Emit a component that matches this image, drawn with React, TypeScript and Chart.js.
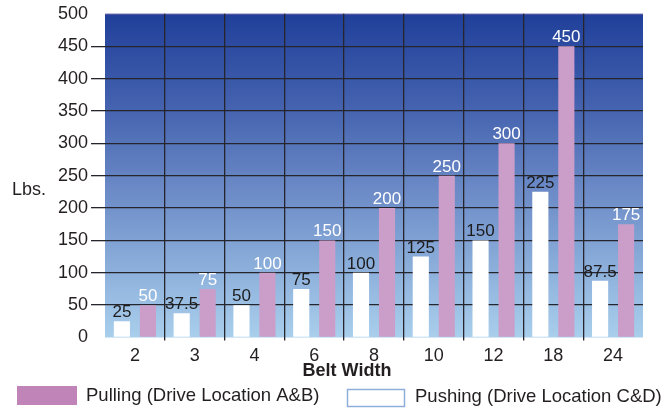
import React, { useEffect, useRef } from "react";
import { Chart, registerables } from "chart.js";

Chart.register(...registerables);

const categories = ["2", "3", "4", "6", "8", "10", "12", "18", "24"];
const pushingValues = [25, 37.5, 50, 75, 100, 125, 150, 225, 87.5];
const pullingValues = [50, 75, 100, 150, 200, 250, 300, 450, 175];
const pushingLabel = "Pushing (Drive Location C&D)";
const pullingLabel = "Pulling (Drive Location A&B)";
const yTitle = "Lbs.";
const xTitle = "Belt Width";

const FONT = "'Liberation Sans', Arial, Helvetica, sans-serif";
const TEXT = "#231f20";
const PINK = "#cb9ec9";
const PINK_LEGEND = "#c184b9";
const GRID = "#25252e";

export default function App() {
  const ref = useRef<HTMLCanvasElement | null>(null);

  useEffect(() => {
    if (!ref.current) return;

    const bgPlugin = {
      id: "bg",
      beforeDraw(chart: any) {
        const { ctx, chartArea: a } = chart;
        const g = ctx.createLinearGradient(0, a.top, 0, a.bottom);
        g.addColorStop(0, "#203f99");
        g.addColorStop(0.3, "#4664b0");
        g.addColorStop(0.55, "#6c8bc7");
        g.addColorStop(1, "#a9cfec");
        ctx.save();
        ctx.fillStyle = g;
        ctx.fillRect(a.left, a.top, a.right - a.left, a.bottom - a.top);
        ctx.fillStyle = "#5e57a8";
        ctx.fillRect(a.left, a.top, a.right - a.left, 1);
        ctx.restore();
      },
    };

    const labelPlugin = {
      id: "vlabels",
      afterDatasetsDraw(chart: any) {
        const { ctx } = chart;
        ctx.save();
        ctx.font = `17px ${FONT}`;
        ctx.textAlign = "center";
        ctx.textBaseline = "alphabetic";
        chart.data.datasets.forEach((ds: any, di: number) => {
          const meta = chart.getDatasetMeta(di);
          ctx.fillStyle = di === 0 ? "#1c1c1c" : "#ffffff";
          meta.data.forEach((bar: any, i: number) => {
            ctx.fillText(String(ds.data[i]), bar.x, bar.y - 4);
          });
        });
        ctx.restore();
      },
      afterDraw(chart: any) {
        const { ctx, chartArea: a } = chart;
        ctx.save();
        ctx.fillStyle = TEXT;
        ctx.textBaseline = "middle";
        // y title
        ctx.font = `18px ${FONT}`;
        ctx.textAlign = "left";
        ctx.fillText(yTitle, 12, a.top + (a.bottom - a.top) * 0.545);
        // x title
        ctx.font = `bold 18px ${FONT}`;
        ctx.textAlign = "center";
        ctx.fillText(xTitle, 347, 371);
        // legend
        ctx.font = `18.5px ${FONT}`;
        ctx.textAlign = "left";
        ctx.fillStyle = PINK_LEGEND;
        ctx.fillRect(17, 386, 60, 19);
        ctx.fillStyle = TEXT;
        ctx.fillText(pullingLabel, 86, 396);
        ctx.fillStyle = "#ffffff";
        ctx.fillRect(347, 389, 58, 18);
        ctx.strokeStyle = "#8eaedb";
        ctx.lineWidth = 1.5;
        ctx.strokeRect(347.5, 389.5, 57, 17);
        ctx.fillStyle = TEXT;
        ctx.fillText(pushingLabel, 415, 397);
        ctx.restore();
      },
    };

    const chart = new Chart(ref.current, {
      type: "bar",
      data: {
        labels: categories,
        datasets: [
          {
            label: pushingLabel,
            data: pushingValues,
            backgroundColor: "#ffffff",
            borderWidth: 0,
            categoryPercentage: 0.87,
            barPercentage: 0.62,
          },
          {
            label: pullingLabel,
            data: pullingValues,
            backgroundColor: PINK,
            borderWidth: 0,
            categoryPercentage: 0.87,
            barPercentage: 0.62,
          },
        ],
      },
      options: {
        animation: false,
        responsive: true,
        maintainAspectRatio: false,
        layout: { padding: { top: 12, right: 22, left: 0, bottom: 0 } },
        plugins: {
          legend: { display: false },
          tooltip: { enabled: false },
        },
        scales: {
          x: {
            border: { display: false },
            grid: {
              offset: true,
              lineWidth: 1.3,
              tickLength: 3,
              color: (c: any) =>
                c.index === undefined || c.index === 0 ? "rgba(0,0,0,0)" : GRID,
            },
            ticks: {
              color: TEXT,
              padding: 5,
              font: { family: FONT, size: 18 },
            },
            afterFit(scale: any) {
              scale.height = 71.5;
            },
          },
          y: {
            min: 0,
            max: 500,
            border: { display: false },
            grid: {
              lineWidth: 1.3,
              tickLength: 14,
              color: (c: any) =>
                c.tick && (c.tick.value === 0 || c.tick.value === 500)
                  ? "rgba(0,0,0,0)"
                  : GRID,
            },
            ticks: {
              stepSize: 50,
              color: TEXT,
              padding: 3,
              font: { family: FONT, size: 18 },
            },
            afterFit(scale: any) {
              scale.width = 105;
            },
          },
        },
      },
      plugins: [bgPlugin, labelPlugin],
    });

    return () => chart.destroy();
  }, []);

  return (
    <div
      style={{
        position: "absolute",
        left: 0,
        top: 0,
        width: 665,
        height: 409,
        background: "#ffffff",
      }}
    >
      <canvas ref={ref} />
    </div>
  );
}
